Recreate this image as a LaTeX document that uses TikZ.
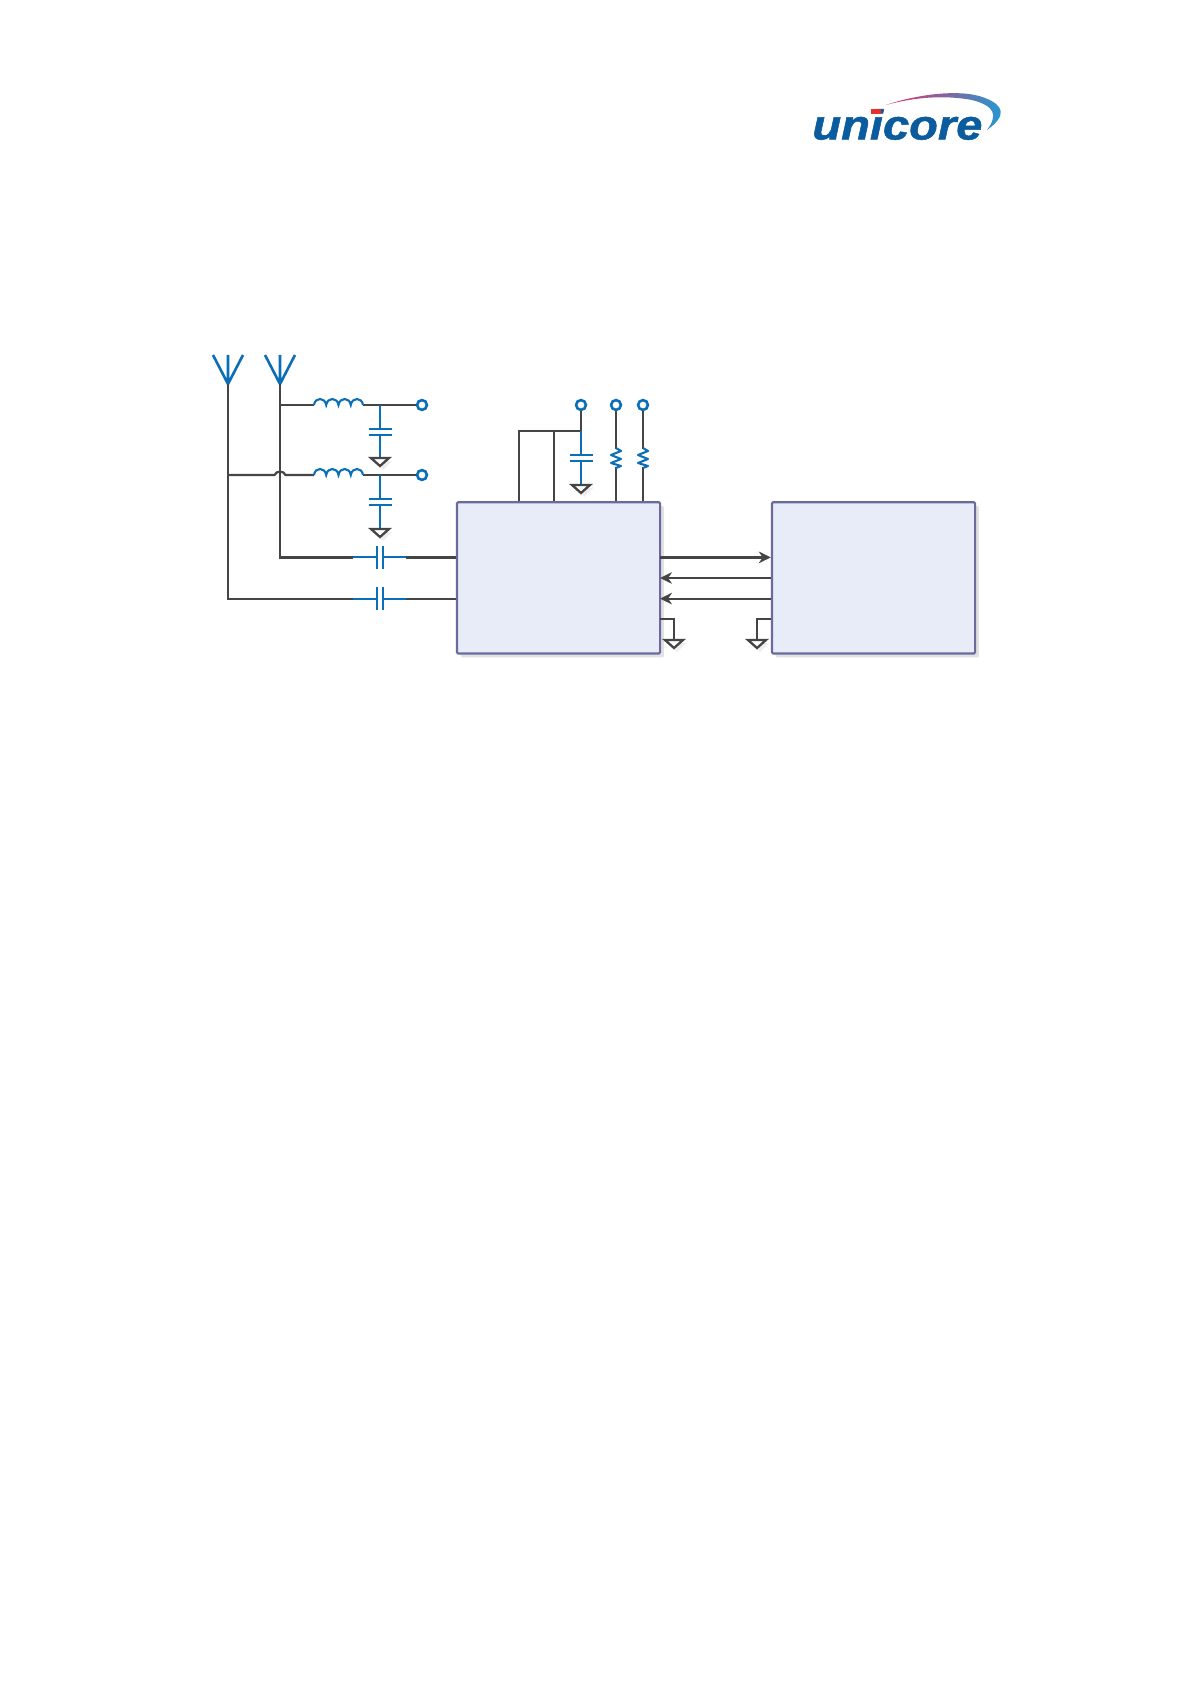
\documentclass[tikz,border=0pt]{standalone}
\usepackage{fontspec}
\setmainfont{Liberation Sans}
\newfontfamily\logofont[FakeBold=1.2]{Liberation Sans}
\usetikzlibrary{arrows.meta}
\definecolor{wire}{HTML}{454545}
\definecolor{compblue}{HTML}{0B6FB8}
\definecolor{boxfill}{HTML}{E7ECF8}
\definecolor{boxedge}{HTML}{6A6A9C}
\definecolor{logoblue}{HTML}{0A5C9E}
\definecolor{shade}{HTML}{E2E2E2}
\definecolor{gndshade}{HTML}{EEEEEE}
\definecolor{swooshL}{HTML}{E8306A}
\definecolor{swooshM}{HTML}{C468B8}
\definecolor{swooshR}{HTML}{1C9CD8}
\definecolor{logored}{HTML}{E8302A}
\tikzset{
  wireline/.style={draw=wire,line width=1.1pt,line join=miter},
  antstem/.style={draw=wire,line width=1.3pt},
  comp/.style={draw=compblue,line width=1.05pt},
  ic/.style={draw=boxedge,fill=boxfill,line width=1.1pt,rounded corners=0.6pt,inner sep=0pt,
             anchor=north west,preaction={draw=none,fill=shade,transform canvas={xshift=1.9pt,yshift=-1.9pt}}},
  term/.style={circle,draw=compblue,fill=white,line width=1.3pt,minimum size=4.9pt,inner sep=0pt},
  arr/.style={wireline,-{Stealth[length=6pt,width=5.8pt]}},
  pics/gnd/.style={code={
    \fill[gndshade] (-6,3) -- (12,3) -- (3,12) -- cycle;
    \draw[draw=wire,fill=white,line width=1.15pt,line join=miter] (-9,0) -- (9,0) -- (0,8) -- cycle;
  }},
  pics/antenna/.style={code={
    \draw[comp,line width=1.3pt] (-15,-29) -- (0,0) -- (15,-29) (0,0) -- (0,-29);
  }},
  pics/vcap/.style={code={
    \draw[comp] (-11.5,-2.8) -- (11.5,-2.8) (-11.5,2.8) -- (11.5,2.8);
  }},
  pics/hcap/.style={code={
    \draw[comp] (-3,-11.5) -- (-3,11.5) (3,-11.5) -- (3,11.5);
    \draw[comp] (-27,0) -- (-3,0) (3,0) -- (26,0);
  }},
  pics/coil/.style={code={
    \draw[comp] (0,0) .. controls (1,-8) and (11,-8) .. (12.2,0)
      .. controls (13.4,-8) and (23.3,-8) .. (24.5,0)
      .. controls (25.7,-8) and (35.6,-8) .. (36.8,0)
      .. controls (38,-8) and (48,-8) .. (49,0);
  }},
  pics/resist/.style={code={
    \draw[comp,line join=round] (0,-10) -- (5,-7) -- (-5,-3) -- (5,1) -- (-5,5) -- (5,8) -- (0,10);
  }},
}
\begin{document}
\begin{tikzpicture}[x=0.5pt,y=-0.5pt]
\useasboundingbox[fill=white] (0,0) rectangle (1191,1684);

% logo
\shade[left color=swooshL,middle color=swooshM,right color=swooshR]
  (886,105) .. controls (915,95) and (960,88) .. (985,98)
  .. controls (1003,105) and (1008,115) .. (987,130)
  .. controls (998,115) and (995,106) .. (972,100)
  .. controls (945,95) and (915,97) .. (886,105) -- cycle;
\node[anchor=base west,inner sep=0pt,text=logoblue,font=\logofont\fontsize{21}{21}\selectfont\bfseries\itshape,xscale=1.12] (logo) at (812,139.5) {unicore};
\fill[logored] (871,109) rectangle (881,114);

% chips
\node[ic,minimum width=101.6pt,minimum height=75.6pt] (chipA) at (455.8,501.2) {};
\node[ic,minimum width=101.6pt,minimum height=75.6pt] (chipB) at (770.8,501.2) {};

% antennas
\coordinate (antL) at (228,384);
\coordinate (antR) at (280,384);
\pic at (antL) {antenna};
\pic at (antR) {antenna};

% left network coordinates
\coordinate (j1) at (380,405);
\coordinate (j2) at (380,475);
\coordinate (lc1) at (314,405);
\coordinate (lc1e) at (363,405);
\coordinate (lc2) at (314,475);
\coordinate (lc2e) at (363,475);
\coordinate (g1) at (380,458);
\coordinate (g2) at (380,529);
\coordinate (c1) at (380,432);
\coordinate (c2) at (380,502);
\coordinate (sc1) at (380,557.4);
\coordinate (sc2) at (380,598.6);
\coordinate (sc1l) at (353,557.4);
\coordinate (sc2l) at (353,598.6);
\coordinate (sc1r) at (406,557.4);
\coordinate (sc2r) at (406,598.6);
\coordinate (tap1) at (280,405);
\coordinate (tap2) at (228,475);

% terminals
\node[term] (t1) at (422,405) {};
\node[term] (t2) at (422,475) {};
\node[term] (t3) at (581,405) {};
\node[term] (t4) at (616,405) {};
\node[term] (t5) at (643,405) {};

% antenna wires
\draw[antstem] (antL) -- (228,457);
\draw[antstem] (antR) -- (280,457);
\draw[wireline] (antL) |- (sc2l);
\draw[wireline] (antR) |- (sc1l);
\draw[wireline] (tap1) -- (lc1);
\draw[wireline] (tap2) -- (274.5,475) .. controls (276,470.5) and (284,470.5) .. (285.5,475) -- (lc2);
\draw[wireline] (lc1e) -- (t1);
\draw[wireline] (lc2e) -- (t2);
\pic at (lc1) {coil};
\pic at (lc2) {coil};
\draw[comp] (j1) -- (c1) (c1) -- (g1);
\draw[comp] (j2) -- (c2) (c2) -- (g2);
\fill[white] (368,429.5) rectangle (392,434.5);
\fill[white] (368,499.5) rectangle (392,504.5);
\pic at (c1) {vcap};
\pic at (c2) {vcap};
\pic at (g1) {gnd};
\pic at (g2) {gnd};

% series caps
\draw[wireline] (sc1r) -- (sc1r -| chipA.west);
\draw[wireline] (sc2r) -- (sc2r -| chipA.west);
\pic at (sc1) {hcap};
\pic at (sc2) {hcap};

% top network
\coordinate (bus) at (581,431);
\coordinate (busA) at (519,431);
\coordinate (busB) at (554,431);
\coordinate (c3) at (581,458);
\coordinate (g3) at (581,485);
\coordinate (r1) at (616,458);
\coordinate (r2) at (643,458);
\draw[wireline] (t3) -- (bus) -- (busA) -- (busA |- chipA.north);
\draw[wireline] (busB) -- (busB |- chipA.north);
\draw[comp] (bus) -- (g3);
\fill[white] (570,455.5) rectangle (592,460.5);
\pic at (c3) {vcap};
\pic at (g3) {gnd};
\draw[wireline] (t4) -- (t4 |- chipA.north);
\draw[wireline] (t5) -- (t5 |- chipA.north);
\fill[white] (608,449) rectangle (624,467);
\fill[white] (635,449) rectangle (651,467);
\pic at (r1) {resist};
\pic at (r2) {resist};

% links between chips
\coordinate (a1) at (660,557.4);
\coordinate (a2) at (660,578);
\coordinate (a3) at (660,598.6);
\draw[arr] (a1) -- (a1 -| chipB.west);
\draw[arr] (a2 -| chipB.west) -- (a2);
\draw[arr] (a3 -| chipB.west) -- (a3);

% chip grounds
\coordinate (gA) at (674,640);
\coordinate (gB) at (757,640);
\coordinate (gAs) at (660,619);
\coordinate (gBs) at (771,619);
\draw[wireline] (gAs) -| (gA);
\draw[wireline] (gBs) -| (gB);
\pic at (gA) {gnd};
\pic at (gB) {gnd};
\end{tikzpicture}
\end{document}
